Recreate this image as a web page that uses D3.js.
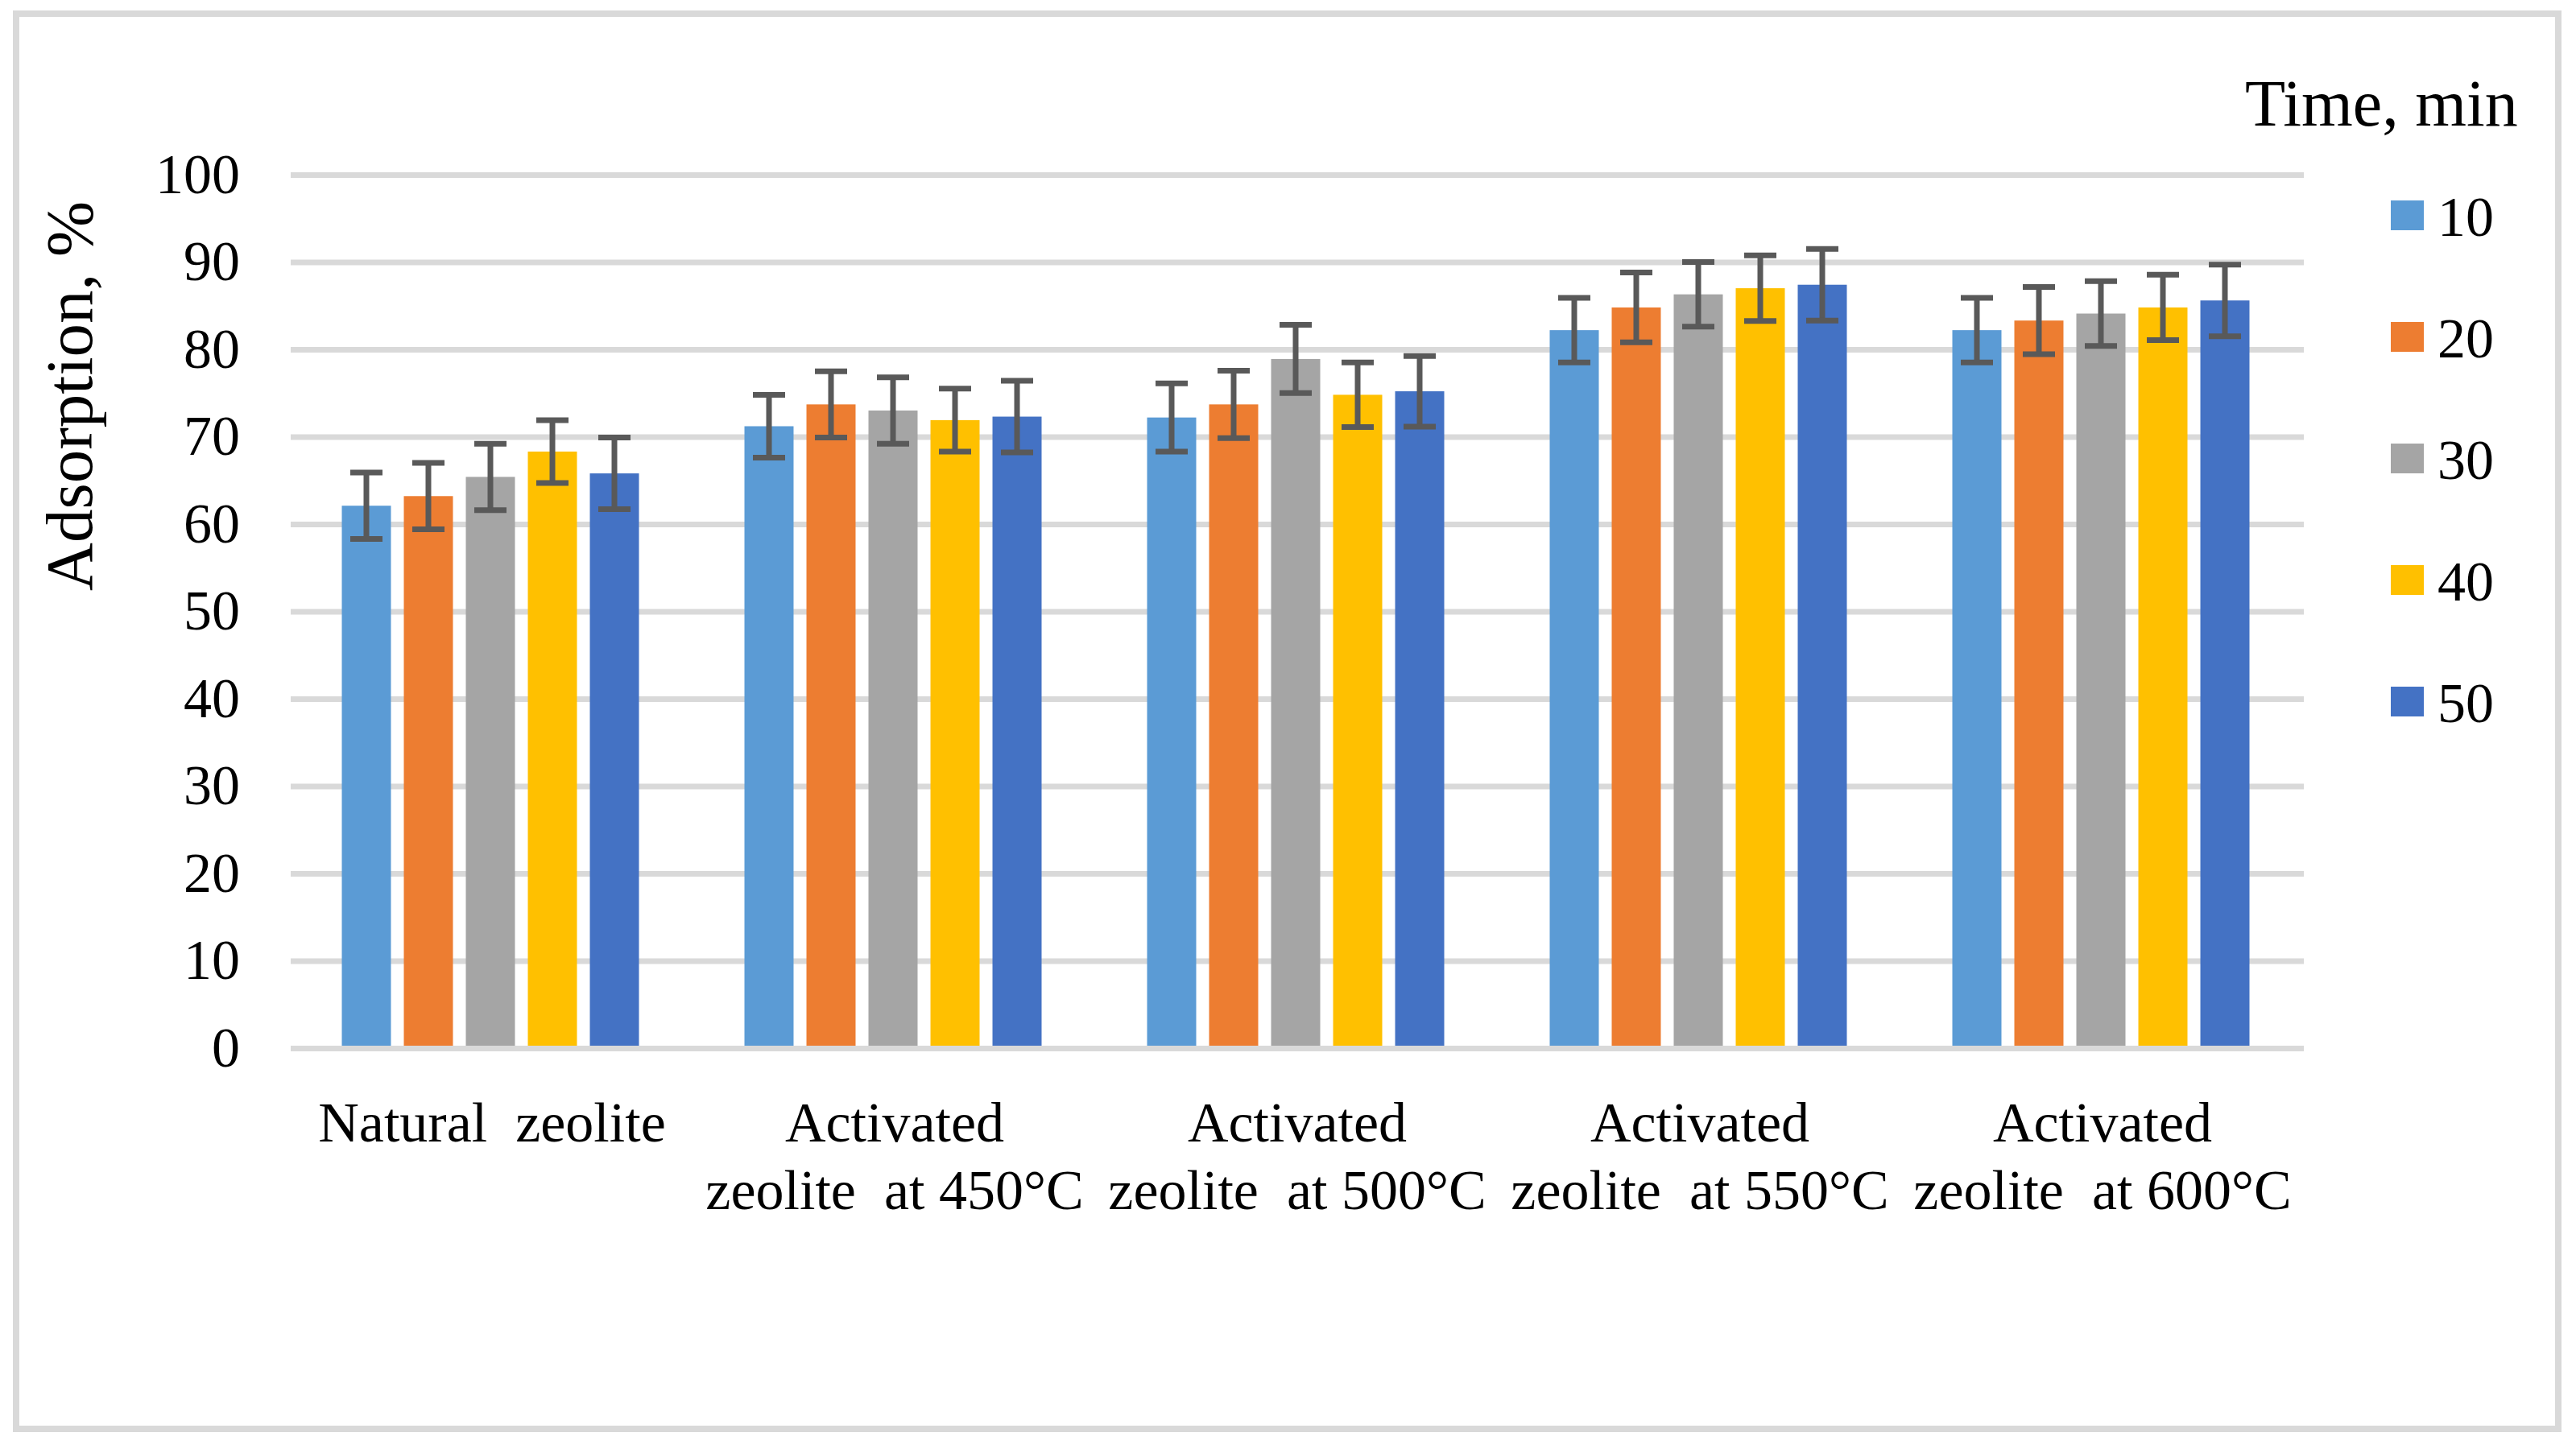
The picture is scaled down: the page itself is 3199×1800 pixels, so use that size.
<!DOCTYPE html>
<html>
<head>
<meta charset="utf-8">
<script src="https://cdn.jsdelivr.net/npm/d3@7"></script>
<style>
  body { margin: 0; background: #fff; }
  text { font-family: "Liberation Serif", "Times New Roman", serif; fill: #000; }
</style>
</head>
<body>
<div id="chart"></div>
<script>
// data
var categories = [
    ["Natural  zeolite"],
    ["Activated", "zeolite  at 450°C"],
    ["Activated", "zeolite  at 500°C"],
    ["Activated", "zeolite  at 550°C"],
    ["Activated", "zeolite  at 600°C"]
];
var seriesNames = ["10", "20", "30", "40", "50"];
var colors = ["#5B9BD5", "#ED7D31", "#A5A5A5", "#FFC000", "#4472C4"];

var time10 = [62.1, 71.2, 72.2, 82.2, 82.2];
var time20 = [63.2, 73.7, 73.7, 84.8, 83.3];
var time30 = [65.4, 73.0, 78.9, 86.3, 84.1];
var time40 = [68.3, 71.9, 74.8, 87.0, 84.8];
var time50 = [65.8, 72.3, 75.2, 87.4, 85.6];

var err10 = [3.8, 3.6, 3.9, 3.7, 3.7];
var err20 = [3.8, 3.8, 3.85, 4.0, 3.85];
var err30 = [3.8, 3.8, 3.9, 3.7, 3.7];
var err40 = [3.6, 3.6, 3.7, 3.75, 3.75];
var err50 = [4.1, 4.1, 4.05, 4.1, 4.1];

var yTicks = [0, 10, 20, 30, 40, 50, 60, 70, 80, 90, 100];

var seriesValues = [time10, time20, time30, time40, time50];
var seriesErrors = [err10, err20, err30, err40, err50];

var svgWidth = 3199;
var svgHeight = 1800;

var plot = { left: 361, right: 2861, top: 217, bottom: 1302 };

var svg = d3.select("#chart")
    .append("svg")
    .attr("width", svgWidth)
    .attr("height", svgHeight);

// outer frame
svg.append("rect")
    .attr("x", 20)
    .attr("y", 17)
    .attr("width", 3157)
    .attr("height", 1758)
    .attr("fill", "#fff")
    .attr("stroke", "#d9d9d9")
    .attr("stroke-width", 8);

// scales
var x0 = d3.scaleBand()
    .domain(d3.range(categories.length))
    .range([plot.left, plot.right]);

var x1 = d3.scaleBand()
    .domain(d3.range(seriesNames.length))
    .range([0, 369])
    .paddingInner(0.208);

var y = d3.scaleLinear()
    .domain([0, 100])
    .range([plot.bottom, plot.top]);

var groupOffset = (x0.bandwidth() - 369) / 2 - 2;

// y axis with gridlines
var yAxis = svg.append("g")
    .attr("transform", `translate(${plot.left},0)`)
    .call(d3.axisLeft(y)
        .tickValues(yTicks)
        .tickSize(-(plot.right - plot.left))
        .tickPadding(63));

yAxis.select(".domain").remove();
yAxis.selectAll(".tick line")
    .attr("stroke", "#d9d9d9")
    .attr("stroke-width", 7);
yAxis.selectAll(".tick text")
    .attr("font-family", "Liberation Serif")
    .attr("font-size", 70)
    .attr("fill", "#000");

// bars
var groups = svg.append("g")
    .selectAll("g")
    .data(categories)
    .enter()
    .append("g")
    .attr("transform", (d, i) => `translate(${x0(i) + groupOffset},0)`);

groups.each(function(c, gi) {
    var g = d3.select(this);
    seriesNames.forEach(function(s, si) {
        var v = seriesValues[si][gi];
        var e = seriesErrors[si][gi];
        var cx = x1(si) + x1.bandwidth() / 2;
        g.append("rect")
            .attr("x", x1(si))
            .attr("y", y(v))
            .attr("width", x1.bandwidth())
            .attr("height", y(0) - y(v) - 3)
            .attr("fill", colors[si]);
        // error bar
        g.append("line")
            .attr("x1", cx).attr("x2", cx)
            .attr("y1", y(v + e)).attr("y2", y(v - e))
            .attr("stroke", "#595959")
            .attr("stroke-width", 7);
        [v + e, v - e].forEach(function(t) {
            g.append("line")
                .attr("x1", cx - 20).attr("x2", cx + 20)
                .attr("y1", y(t)).attr("y2", y(t))
                .attr("stroke", "#595959")
                .attr("stroke-width", 7);
        });
    });
});

// category labels
svg.append("g")
    .selectAll("text")
    .data(categories)
    .enter()
    .append("text")
    .attr("text-anchor", "middle")
    .attr("font-size", 70)
    .attr("xml:space", "preserve")
    .style("white-space", "pre")
    .each(function(lines, i) {
        var t = d3.select(this);
        lines.forEach(function(line, li) {
            t.append("tspan")
                .attr("x", x0(i) + x0.bandwidth() / 2)
                .attr("y", 1418 + li * 84)
                .text(line);
        });
    });

// y axis title
svg.append("text")
    .attr("transform", "translate(114,492) rotate(-90)")
    .attr("text-anchor", "middle")
    .attr("font-size", 83)
    .text("Adsorption, %");

// legend
svg.append("text")
    .attr("x", 2788)
    .attr("y", 156)
    .attr("font-size", 82)
    .text("Time, min");

var legend = svg.append("g")
    .selectAll("g")
    .data(seriesNames)
    .enter()
    .append("g")
    .attr("transform", (d, i) => `translate(2969,${249 + i * 151})`);

legend.append("rect")
    .attr("width", 41)
    .attr("height", 37)
    .attr("fill", (d, i) => colors[i]);

legend.append("text")
    .attr("x", 58)
    .attr("y", 44)
    .attr("font-size", 70)
    .text(d => d);
</script>
</body>
</html>
